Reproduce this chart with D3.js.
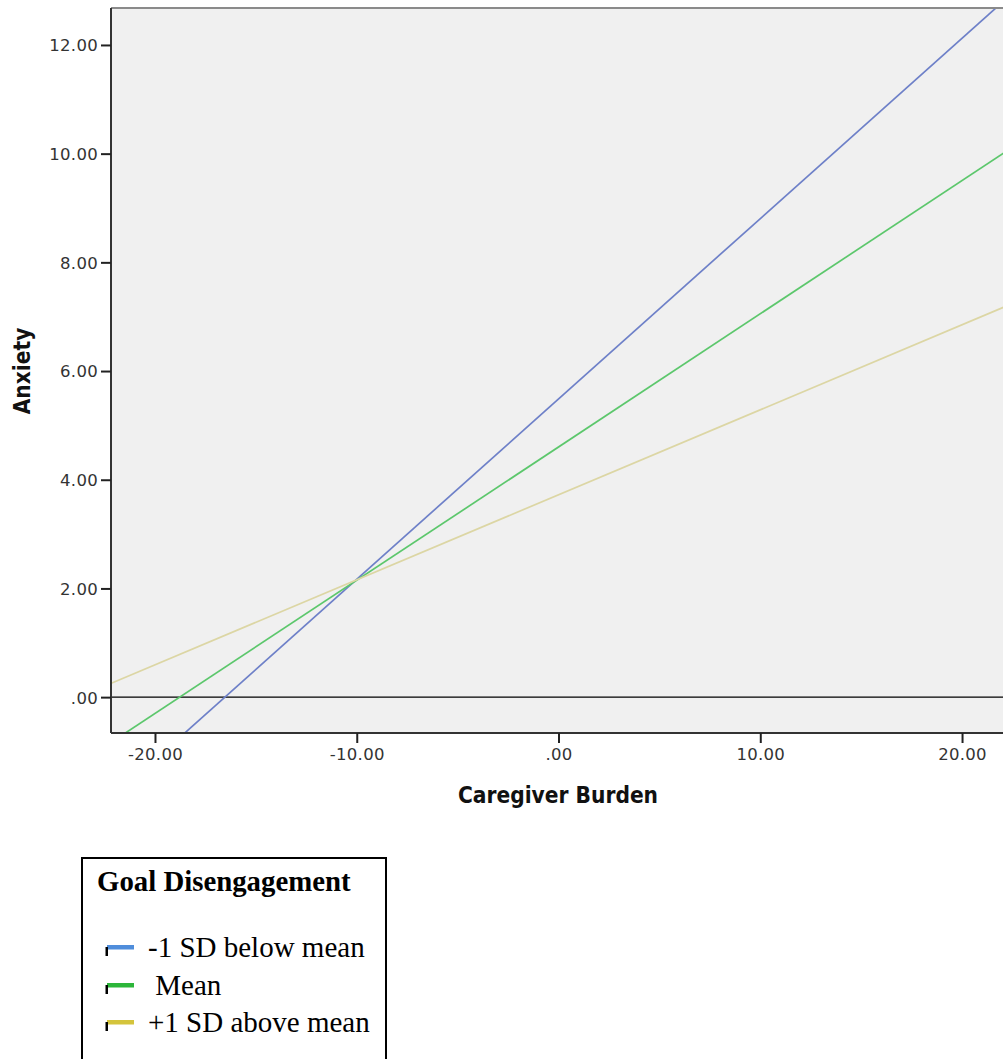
<!DOCTYPE html>
<html><head><meta charset="utf-8">
<script src="https://cdn.jsdelivr.net/npm/d3@7/dist/d3.min.js"></script>
<style>
html,body{margin:0;padding:0;background:#fff;}
svg{display:block;}
</style></head>
<body>
<svg id="chart" width="1003" height="1059"></svg>
<script>
// ---- data ----
const xEnds = [-22.2, 22.1];               // caregiver burden range of fit lines
const seriesNames = ["-1 SD below mean", " Mean", "+1 SD above mean"];
const lowValues  = [-1.88, 12.82];         // anxiety at xEnds, -1 SD
const meanValues = [-0.84, 10.02];         // anxiety at xEnds, mean
const highValues = [0.25, 7.18];           // anxiety at xEnds, +1 SD
const xTicks = [-20, -10, 0, 10, 20];
const yTicks = [0, 2, 4, 6, 8, 10, 12];
const lineColors = ["#6e80c8", "#5cc76c", "#dcd6a4"];
const legendColors = ["#4f8ddb", "#2cb63a", "#d4c43c"];

const svg = d3.select("#chart");
const L = 111, T = 8, R = 1003, B = 733;
const x = d3.scaleLinear().domain([-22.18, 22.03]).range([L, R]);
const y = d3.scaleLinear().domain([-0.66, 12.68]).range([B, T]);

svg.append("rect").attr("x",0).attr("y",0).attr("width",1003).attr("height",1059).attr("fill","#fff");
svg.append("rect").attr("x",L).attr("y",T).attr("width",R-L+10).attr("height",B-T).attr("fill","#f0f0f0");

svg.append("defs").append("clipPath").attr("id","clip")
  .append("rect").attr("x",L).attr("y",T).attr("width",R-L+10).attr("height",B-T);

// zero reference line
svg.append("line").attr("x1",L).attr("x2",R+10).attr("y1",y(0)).attr("y2",y(0))
  .attr("stroke","#000").attr("stroke-width",1.3);

// fit lines
const all = [lowValues, meanValues, highValues];
const lineGen = d3.line().x((d,i)=>x(xEnds[i])).y(d=>y(d));
const g = svg.append("g").attr("clip-path","url(#clip)");
all.forEach((vals,k)=>{
  g.append("path").datum(vals).attr("d",lineGen)
   .attr("fill","none").attr("stroke",lineColors[k]).attr("stroke-width",1.7);
});

// frame
svg.append("line").attr("x1",L).attr("x2",R+10).attr("y1",T).attr("y2",T).attr("stroke","#8a8a8a").attr("stroke-width",2);

// axes
const fmt = v => v===0 ? ".00" : d3.format(".2f")(v).replace("−","-");
const yAxis = d3.axisLeft(y).tickValues(yTicks).tickSize(10).tickSizeOuter(0).tickFormat(fmt);
const xAxis = d3.axisBottom(x).tickValues(xTicks).tickSize(10).tickSizeOuter(0).tickFormat(fmt);
const ya = svg.append("g").attr("transform",`translate(${L},0)`).call(yAxis);
const xa = svg.append("g").attr("transform",`translate(0,${B})`).call(xAxis);
[ya,xa].forEach(a=>{
  a.attr("font-size",null).attr("font-family",null);
  a.select(".domain").attr("stroke","#333").attr("stroke-width",2);
  a.selectAll(".tick line").attr("stroke","#222").attr("stroke-width",2);
  a.selectAll(".tick text").attr("fill","#333").style("font-family","DejaVu Sans").style("font-size","16.5px").style("letter-spacing","0.3px");
});
ya.select(".domain").attr("d",`M0,${T}V${B}`);
xa.select(".domain").attr("d",`M${L},0H${R+10}`);
ya.selectAll(".tick text").attr("x",-13).attr("dy","0.36em");
xa.selectAll(".tick text").attr("y",15).attr("dy","0.71em");

// axis titles
svg.append("text").attr("x",558).attr("y",803).attr("text-anchor","middle")
  .style("font-family","DejaVu Sans Condensed, DejaVu Sans").attr("font-weight","bold").style("font-size","22.5px")
  .attr("fill","#111").text("Caregiver Burden");
svg.append("text").attr("transform","translate(30,371) rotate(-90)").attr("text-anchor","middle")
  .style("font-family","DejaVu Sans Condensed, DejaVu Sans").attr("font-weight","bold").style("font-size","22.5px")
  .attr("fill","#111").text("Anxiety");

// legend
const lg = svg.append("g");
lg.append("rect").attr("x",82).attr("y",858).attr("width",304).attr("height",220)
  .attr("fill","#fff").attr("stroke","#000").attr("stroke-width",2);
lg.append("text").attr("x",97).attr("y",891).style("font-family","Liberation Serif")
  .attr("font-weight","bold").style("font-size","28.8px").attr("fill","#000").text("Goal Disengagement");
const itemY = [947, 985, 1022];
seriesNames.forEach((n,i)=>{
  lg.append("rect").attr("x",107).attr("y",itemY[i]-2).attr("width",27).attr("height",4.5).attr("fill",legendColors[i]);
  lg.append("rect").attr("x",105.5).attr("y",itemY[i]).attr("width",2.5).attr("height",9).attr("fill","#000");
  lg.append("text").attr("x",148).attr("y",itemY[i]+9.5).style("font-family","Liberation Serif")
    .style("font-size","29px").attr("fill","#000").attr("xml:space","preserve").style("white-space","pre").text(n);
});
</script>
</body></html>
